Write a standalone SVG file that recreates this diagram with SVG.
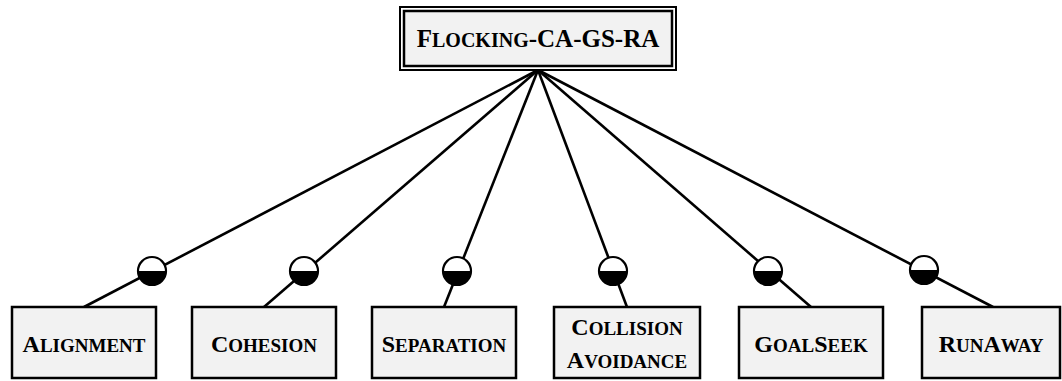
<svg xmlns="http://www.w3.org/2000/svg" width="1062" height="381" viewBox="0 0 1062 381">
<style>
.box{fill:#f2f2f2;stroke:#000;stroke-width:2.5}
.lbl{font-family:"Liberation Serif","Times New Roman",serif;font-weight:bold;font-size:24px;text-anchor:middle;fill:#000}
.sc{font-size:19px}
.top{font-size:25px}
.top .sc{font-size:20px}
.edge{stroke:#000;stroke-width:2.6;fill:none}
</style>
<defs>
<g id="opt">
<circle r="14" fill="#fff"/>
<path d="M-14,0 A14,14 0 0,0 14,0 Z" fill="#000"/>
<circle r="14" fill="none" stroke="#000" stroke-width="2.2"/>
</g>
</defs>
<g id="connectors">
<line class="edge" x1="538" y1="70" x2="84" y2="307"/>
<line class="edge" x1="538" y1="70" x2="264" y2="307"/>
<line class="edge" x1="538" y1="70" x2="444" y2="307"/>
<line class="edge" x1="538" y1="70" x2="627" y2="307"/>
<line class="edge" x1="538" y1="70" x2="811" y2="307"/>
<line class="edge" x1="538" y1="70" x2="993" y2="307"/>
<use href="#opt" x="152" y="271"/>
<use href="#opt" x="304" y="271"/>
<use href="#opt" x="457" y="271"/>
<use href="#opt" x="613" y="271"/>
<use href="#opt" x="768" y="271"/>
<use href="#opt" x="924" y="270"/>
</g>
<g id="root">
<rect x="400" y="7" width="276" height="63" fill="#fff" stroke="#000" stroke-width="2"/>
<rect x="404" y="11" width="268" height="55" class="box" stroke-width="2"/>
<text class="lbl top" x="538" y="47">F<tspan class="sc">LOCKING</tspan>-CA-GS-RA</text>
</g>
<g id="alignment">
<rect class="box" x="12" y="307" width="144" height="71"/>
<text class="lbl" x="84" y="352">A<tspan class="sc">LIGNMENT</tspan></text>
</g>
<g id="cohesion">
<rect class="box" x="192" y="307" width="144" height="71"/>
<text class="lbl" x="264" y="352">C<tspan class="sc">OHESION</tspan></text>
</g>
<g id="separation">
<rect class="box" x="372" y="307" width="144" height="71"/>
<text class="lbl" x="444" y="352">S<tspan class="sc">EPARATION</tspan></text>
</g>
<g id="collision">
<rect class="box" x="554" y="307" width="146" height="71"/>
<text class="lbl" x="627" y="335">C<tspan class="sc">OLLISION</tspan></text>
<text class="lbl" x="627" y="368">A<tspan class="sc">VOIDANCE</tspan></text>
</g>
<g id="goalseek">
<rect class="box" x="739" y="307" width="144" height="71"/>
<text class="lbl" x="811" y="352">G<tspan class="sc">OAL</tspan>S<tspan class="sc">EEK</tspan></text>
</g>
<g id="runaway">
<rect class="box" x="922" y="307" width="138" height="71"/>
<text class="lbl" x="991" y="352">R<tspan class="sc">UN</tspan>A<tspan class="sc">WAY</tspan></text>
</g>
</svg>
